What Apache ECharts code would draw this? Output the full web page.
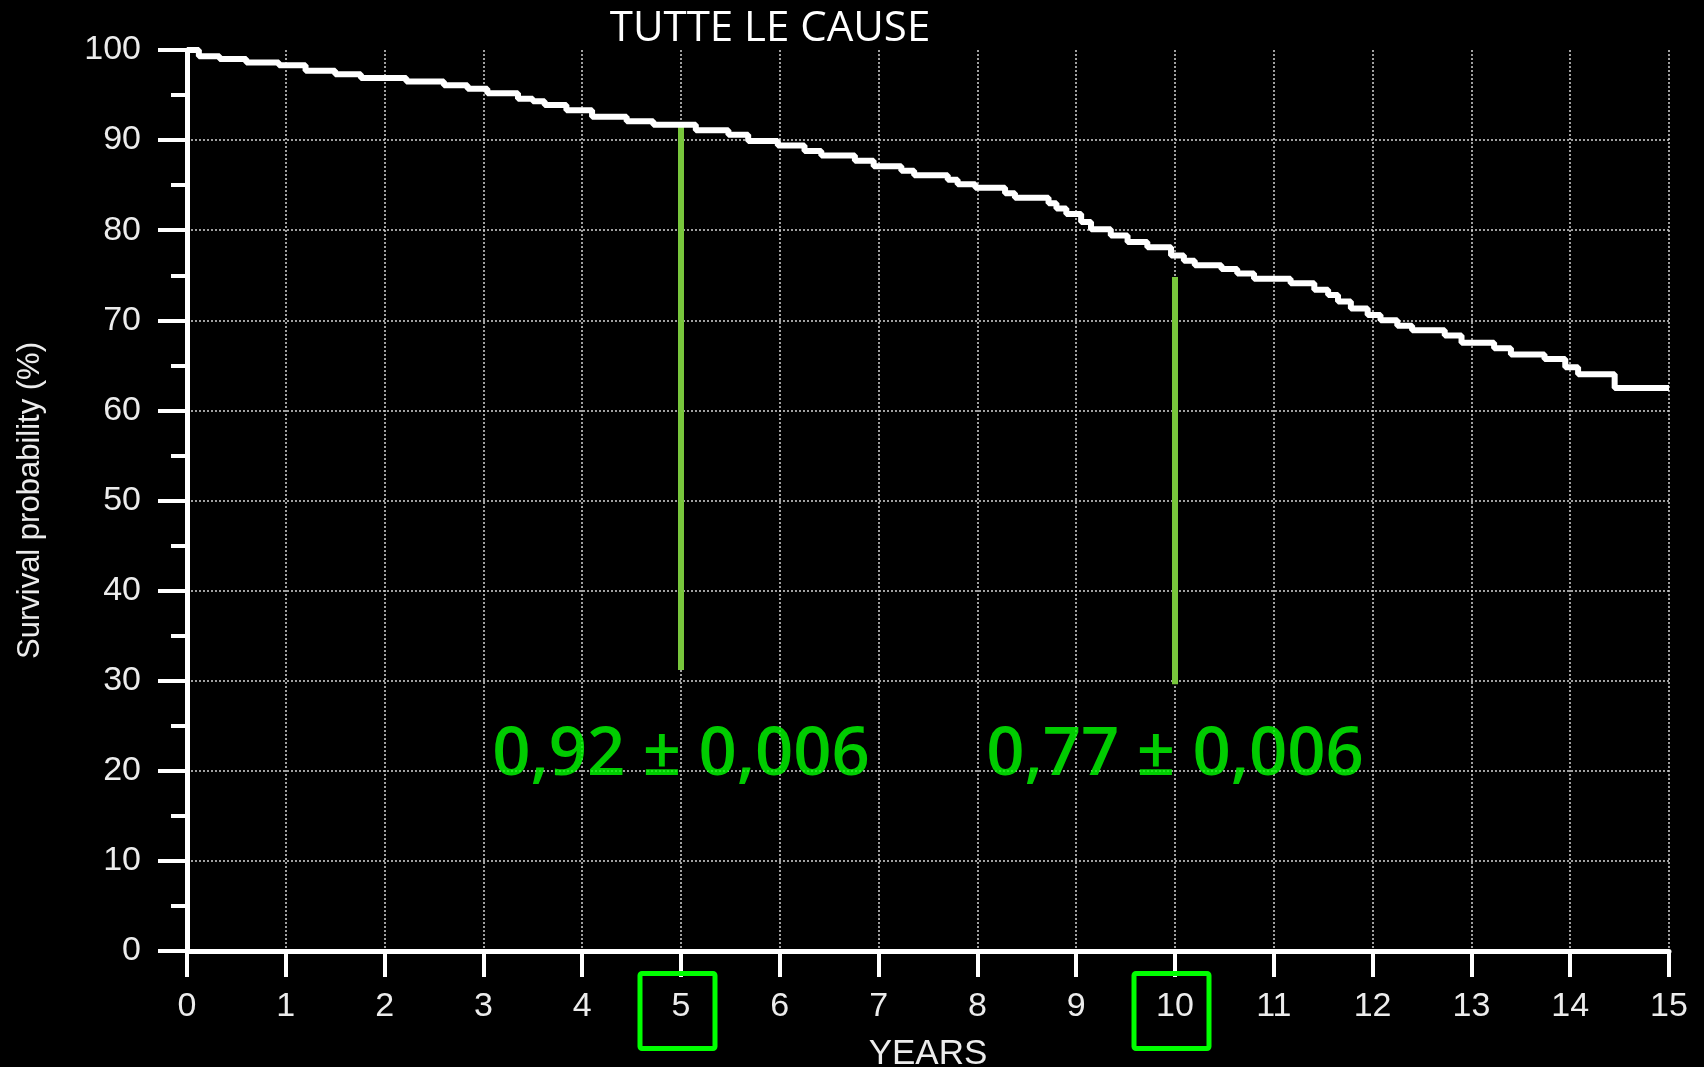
<!DOCTYPE html>
<html>
<head>
<meta charset="utf-8">
<style>
  html, body { margin: 0; padding: 0; background: #000; }
  #chart { width: 1704px; height: 1067px; }
</style>
<script src="https://cdn.jsdelivr.net/npm/echarts@6/dist/echarts.min.js"></script>
</head>
<body>
<div id="chart"></div>
<script>
// Kaplan-Meier estimate, all causes: event times (years) and survival (%) after each step
const eventYears = [0, 0.12, 0.33, 0.6, 0.93, 1.2, 1.5, 1.76, 2.22, 2.6, 2.84, 3.04, 3.35, 3.5, 3.62, 3.84,
  4.1, 4.45, 4.72, 5.15, 5.48, 5.68, 5.98, 6.25, 6.42, 6.76, 6.95, 7.23, 7.36, 7.7, 7.8, 7.98,
  8.28, 8.38, 8.72, 8.8, 8.9, 9.05, 9.15, 9.35, 9.52, 9.72, 9.96, 10.09, 10.2, 10.47, 10.63, 10.8,
  11.17, 11.41, 11.55, 11.65, 11.78, 11.95, 12.08, 12.25, 12.4, 12.73, 12.9, 13.23, 13.4, 13.74,
  13.95, 14.08, 14.45, 15.0];
const survivalPct = [100, 99.3, 99.0, 98.6, 98.3, 97.7, 97.3, 96.9, 96.5, 96.1, 95.7, 95.2, 94.6, 94.3, 93.9, 93.3,
  92.6, 92.1, 91.7, 91.1, 90.6, 89.9, 89.4, 88.8, 88.3, 87.7, 87.1, 86.6, 86.1, 85.6, 85.1, 84.7,
  84.1, 83.6, 83.0, 82.4, 81.8, 80.9, 80.1, 79.4, 78.7, 78.1, 77.2, 76.6, 76.1, 75.7, 75.2, 74.6,
  74.1, 73.4, 72.8, 72.1, 71.3, 70.6, 70.0, 69.4, 68.9, 68.3, 67.5, 66.9, 66.2, 65.7,
  64.8, 64.0, 62.5, 62.5];

// Highlighted follow-up times with estimate ± standard error
const markerYears = [5, 10];
const markerEstimate = [0.92, 0.77];
const markerStdErr = [0.006, 0.006];
// Vertical extent (%) of the green guide lines
const markerLineTop = [91.6, 74.8];
const markerLineBottom = [31.2, 29.6];

// Axis ticks
const xTicks = [0, 15, 1];   // min, max, step (years)
const yTicks = [0, 100, 10]; // min, max, step (%)

const commaDecimal = v => String(v).replace('.', ',');
const LABEL_Y = 21.6; // vertical anchor (%) for the estimate captions

const chart = echarts.init(document.getElementById('chart'), null, { renderer: 'canvas' });

const axisText = { color: '#ececec', fontFamily: 'Liberation Sans, Arial, sans-serif' };

const guideSeries = markerYears.map((yr, i) => ({
  type: 'line',
  silent: true,
  symbol: 'none',
  clip: false,
  z: 3,
  lineStyle: { color: '#78c63c', width: 6, cap: 'butt' },
  data: [[yr, markerLineBottom[i]], [yr, markerLineTop[i]]]
}));

// Green frame around a highlighted year label, placed under its x-axis tick
const frameSeries = {
  type: 'custom',
  silent: true,
  clip: false,
  z: 6,
  data: markerYears.map(yr => [yr, yTicks[0]]),
  renderItem: (params, api) => {
    const p = api.coord([api.value(0), api.value(1)]);
    return {
      type: 'rect',
      shape: { x: p[0] - 41, y: p[1] + 22.5, width: 75, height: 75, r: 2 },
      style: { fill: 'none', stroke: '#00ff00', lineWidth: 5 }
    };
  }
};

chart.setOption({
  backgroundColor: '#000',
  animation: false,
  graphic: [{
    type: 'text',
    x: 770, y: 8,
    style: {
      text: 'TUTTE LE CAUSE',
      fill: '#ffffff',
      font: '42px "Open Sans", sans-serif',
      align: 'center',
      verticalAlign: 'top'
    }
  }],
  grid: { left: 187, right: 35, top: 50, bottom: 116, containLabel: false, outerBoundsMode: 'none' },
  xAxis: {
    type: 'value',
    min: xTicks[0], max: xTicks[1], interval: xTicks[2],
    name: 'YEARS',
    nameLocation: 'middle',
    nameGap: 86,
    nameTextStyle: Object.assign({ fontSize: 35 }, axisText),
    axisLine: { show: true, onZero: false, lineStyle: { color: '#fff', width: 5 } },
    axisTick: { show: true, length: 26, lineStyle: { color: '#fff', width: 4 } },
    axisLabel: Object.assign({ fontSize: 34, margin: 39 }, axisText),
    splitLine: { show: true, lineStyle: { color: '#d4d4d4', width: 1.5, type: [2, 2] } }
  },
  yAxis: {
    type: 'value',
    min: yTicks[0], max: yTicks[1], interval: yTicks[2],
    name: 'Survival probability (%)',
    nameLocation: 'middle',
    nameRotate: 90,
    nameGap: 141,
    nameTextStyle: Object.assign({ fontSize: 31 }, axisText),
    axisLine: { show: true, lineStyle: { color: '#fff', width: 5 } },
    axisTick: { show: true, length: 29, lineStyle: { color: '#fff', width: 4 } },
    minorTick: { show: true, splitNumber: 2, length: 16, lineStyle: { color: '#fff', width: 4 } },
    axisLabel: Object.assign({ fontSize: 34, margin: 46 }, axisText),
    splitLine: {
      show: true, showMaxLine: false,
      lineStyle: { color: '#d4d4d4', width: 1.5, type: [2, 2] }
    }
  },
  series: [
    {
      type: 'line',
      step: 'end',
      symbol: 'none',
      clip: false,
      z: 4,
      lineStyle: { color: '#ffffff', width: 6 },
      data: eventYears.map((t, i) => [t, survivalPct[i]])
    },
    ...guideSeries,
    frameSeries,
    {
      type: 'scatter',
      silent: true,
      symbolSize: 0,
      z: 5,
      data: markerYears.map((yr, i) => [yr, LABEL_Y, markerEstimate[i], markerStdErr[i]]),
      label: {
        show: true,
        position: 'inside',
        color: '#00ff00',
        fontSize: 67,
        fontWeight: 600,
        fontFamily: '"Open Sans", sans-serif',
        formatter: p => commaDecimal(p.value[2]) + ' \u00b1 ' + commaDecimal(p.value[3])
      }
    }
  ]
});
</script>
</body>
</html>
